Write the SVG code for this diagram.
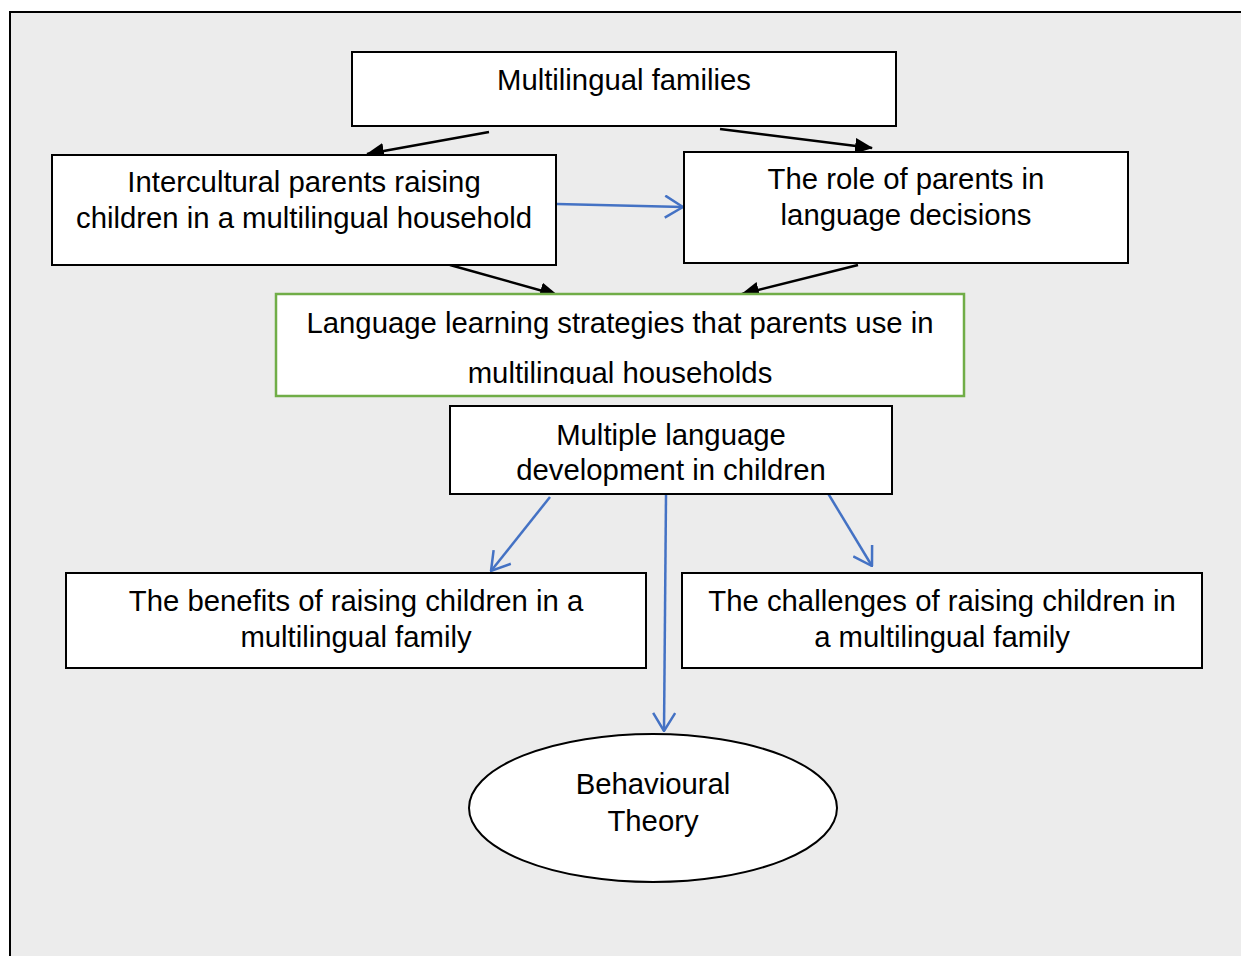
<svg xmlns="http://www.w3.org/2000/svg" width="1241" height="956" viewBox="0 0 1241 956">
  <style>
    .box { fill: #ffffff; stroke: #000000; stroke-width: 2; }
    .green { fill: #ffffff; stroke: #70ad47; stroke-width: 2.5; }
    .lbl { font-family: "Liberation Sans", Arial, sans-serif; font-size: 29.3px; fill: #000000; text-anchor: middle; }
    .blk { stroke: #000000; stroke-width: 2.5; fill: none; marker-end: url(#solid); }
    .blu { stroke: #4472c4; stroke-width: 2.5; fill: none; marker-end: url(#open); }
  </style>
  <defs>
    <marker id="solid" viewBox="0 0 18 16" refX="17" refY="8" markerWidth="18" markerHeight="16" markerUnits="userSpaceOnUse" orient="auto">
      <path d="M0,0 L18,8 L0,16 Z" fill="#000000"/>
    </marker>
    <marker id="open" viewBox="0 0 20 24" refX="19" refY="12" markerWidth="20" markerHeight="24" markerUnits="userSpaceOnUse" orient="auto">
      <path d="M1,1 L19,12 L1,23" fill="none" stroke="#4472c4" stroke-width="2.5"/>
    </marker>
    <clipPath id="stratClip">
      <rect x="276" y="294" width="688" height="90"/>
    </clipPath>
  </defs>

  <!-- page frame -->
  <rect x="0" y="0" width="1241" height="956" fill="#ffffff"/>
  <rect x="10" y="12" width="1240" height="960" fill="#ececec" stroke="#000000" stroke-width="2"/>

  <!-- connectors -->
  <g id="connectors">
    <line class="blk" x1="489" y1="132" x2="367" y2="154"/>
    <line class="blk" x1="720" y1="129" x2="872" y2="148"/>
    <line class="blk" x1="450" y1="265" x2="557" y2="295"/>
    <line class="blk" x1="858" y1="265" x2="742" y2="294"/>
    <line class="blu" x1="557" y1="204" x2="683" y2="207"/>
    <line class="blu" x1="550" y1="497" x2="491" y2="571"/>
    <line class="blu" x1="666" y1="495" x2="664" y2="731"/>
    <line class="blu" x1="826" y1="490" x2="872" y2="566"/>
  </g>

  <g id="multilingual-families">
    <rect class="box" x="352" y="52" width="544" height="74"/>
    <text class="lbl" x="624" y="90">Multilingual families</text>
  </g>

  <g id="intercultural-parents">
    <rect class="box" x="52" y="155" width="504" height="110"/>
    <text class="lbl" x="304" y="192">Intercultural parents raising</text>
    <text class="lbl" x="304" y="228">children in a multilingual household</text>
  </g>

  <g id="role-of-parents">
    <rect class="box" x="684" y="152" width="444" height="111"/>
    <text class="lbl" x="906" y="189">The role of parents in</text>
    <text class="lbl" x="906" y="225">language decisions</text>
  </g>

  <g id="learning-strategies">
    <rect class="green" x="276" y="294" width="688" height="102"/>
    <g clip-path="url(#stratClip)">
      <text class="lbl" x="620" y="333">Language learning strategies that parents use in</text>
      <text class="lbl" x="620" y="383">multilingual households</text>
    </g>
  </g>

  <g id="language-development">
    <rect class="box" x="450" y="406" width="442" height="88"/>
    <text class="lbl" x="671" y="445">Multiple language</text>
    <text class="lbl" x="671" y="480">development in children</text>
  </g>

  <g id="benefits">
    <rect class="box" x="66" y="573" width="580" height="95"/>
    <text class="lbl" x="356" y="611">The benefits of raising children in a</text>
    <text class="lbl" x="356" y="647">multilingual family</text>
  </g>

  <g id="challenges">
    <rect class="box" x="682" y="573" width="520" height="95"/>
    <text class="lbl" x="942" y="611">The challenges of raising children in</text>
    <text class="lbl" x="942" y="647">a multilingual family</text>
  </g>

  <g id="behavioural-theory">
    <ellipse class="box" cx="653" cy="808" rx="184" ry="74"/>
    <text class="lbl" x="653" y="794">Behavioural</text>
    <text class="lbl" x="653" y="831">Theory</text>
  </g>
</svg>
